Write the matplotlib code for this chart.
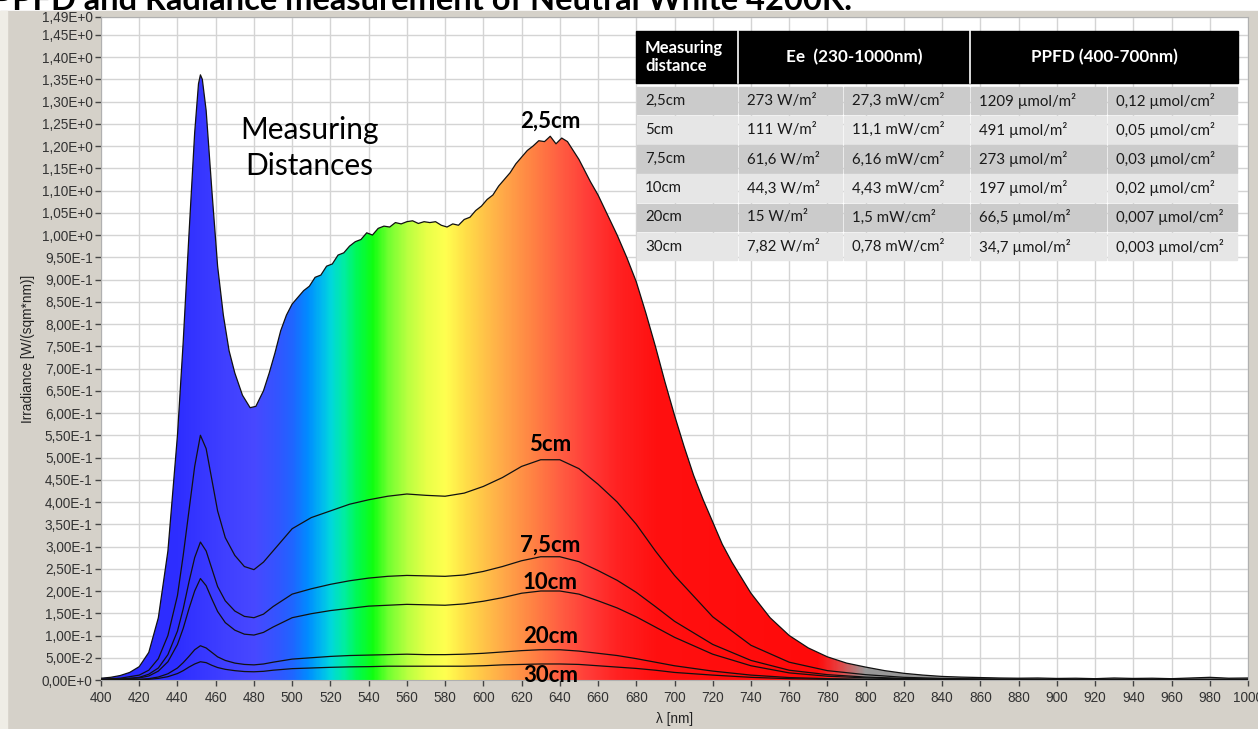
import numpy as np
import matplotlib.pyplot as plt
from matplotlib.colors import LinearSegmentedColormap
from matplotlib.patches import Rectangle

# ---- data ----
title = "PPFD and Radiance measurement of Neutral White 4200K."

# 2,5cm spectrum (densest, with the visible measurement jitter)
wl_25 = [400, 405, 410, 415, 420, 425, 430, 435, 440, 443,
         446, 449, 451, 452, 453, 455, 458, 461, 464, 467,
         470, 474, 478, 481, 485, 488, 491, 494, 497, 500,
         503, 506, 509, 512, 515, 518, 521, 524, 527, 530,
         533, 536, 539, 542, 545, 548, 551, 554, 557, 560,
         563, 566, 569, 572, 575, 578, 581, 584, 587, 590,
         593, 596, 599, 602, 605, 608, 611, 614, 617, 620,
         623, 626, 629, 632, 635, 638, 641, 644, 647, 650,
         653, 656, 660, 665, 670, 675, 680, 685, 690, 695,
         700, 705, 710, 715, 720, 725, 730, 740, 750, 760,
         770, 780, 790, 800, 810, 820, 830, 840, 850, 860,
         870, 880, 890, 900, 910, 920, 930, 940, 950, 960,
         970, 980, 990, 1000]
irr_25 = [.004, .006, .010, .017, .030, .062, .14, .29, .55, .76,
          1.00, 1.23, 1.34, 1.36, 1.35, 1.28, 1.10, .93, .82, .74,
          .69, .64, .612, .615, .65, .69, .735, .785, .82, .845,
          .86, .875, .885, .905, .91, .93, .935, .955, .96, .975,
          .985, .99, 1.005, 1.0, 1.015, 1.02, 1.018, 1.028, 1.025, 1.03,
          1.032, 1.026, 1.03, 1.028, 1.03, 1.022, 1.018, 1.025, 1.022, 1.035,
          1.04, 1.055, 1.065, 1.08, 1.09, 1.11, 1.125, 1.14, 1.16, 1.175,
          1.19, 1.20, 1.212, 1.21, 1.222, 1.205, 1.218, 1.21, 1.19, 1.17,
          1.145, 1.12, 1.09, 1.045, 1.0, .95, .895, .825, .75, .67,
          .595, .525, .46, .405, .355, .305, .265, .195, .14, .10,
          .072, .052, .038, .029, .021, .015, .011, .008, .0065, .0055,
          .0045, .004, .0045, .0035, .004, .003, .0045, .0035, .004, .003,
          .0045, .006, .004, .0045]

# the farther distances
wl_far = [400, 410, 420, 425, 430, 435, 440, 443, 446, 449,
          452, 455, 458, 461, 465, 470, 475, 480, 485, 490,
          500, 510, 520, 530, 540, 550, 560, 570, 580, 590,
          600, 610, 620, 630, 640, 650, 660, 670, 680, 690,
          700, 720, 740, 760, 780, 800, 820, 840, 870, 900,
          950, 1000]
irr_5 = [.002, .004, .011, .022, .048, .10, .19, .28, .38, .48,
         .55, .52, .45, .38, .32, .28, .255, .248, .265, .29,
         .34, .365, .38, .395, .405, .413, .418, .415, .413, .42,
         .435, .455, .48, .495, .495, .475, .44, .40, .35, .29,
         .235, .142, .078, .04, .021, .012, .006, .0035, .002, .0015,
         .0015, .0015]
irr_75 = [.001, .002, .006, .013, .027, .057, .11, .16, .22, .275,
          .31, .29, .25, .21, .178, .155, .143, .14, .148, .165,
          .193, .205, .215, .223, .229, .233, .235, .234, .233, .236,
          .244, .255, .268, .277, .277, .266, .246, .224, .197, .165,
          .132, .08, .044, .022, .012, .0066, .0035, .002, .0012, .001,
          .001, .001]
irr_10 = [.001, .0017, .0046, .009, .02, .041, .08, .116, .16, .20,
          .228, .212, .182, .154, .129, .112, .103, .101, .107, .119,
          .14, .149, .156, .161, .166, .168, .17, .169, .168, .171,
          .177, .185, .195, .20, .20, .193, .178, .162, .142, .119,
          .096, .058, .032, .016, .0085, .0048, .0025, .0014, .0009, .0008,
          .0008, .0008]
irr_20 = [.0003, .0006, .0016, .003, .0067, .014, .027, .039, .053, .068,
          .077, .072, .062, .052, .044, .038, .035, .034, .036, .040,
          .047, .05, .053, .055, .056, .057, .058, .057, .057, .058,
          .06, .063, .066, .068, .068, .065, .06, .055, .048, .04,
          .032, .02, .011, .0055, .003, .0017, .0009, .0005, .0003, .0003,
          .0003, .0003]
irr_30 = [.0002, .0003, .0008, .0016, .0036, .0075, .0145, .021, .029, .036,
          .041, .039, .033, .028, .024, .021, .019, .0185, .0195, .022,
          .0255, .027, .0285, .0295, .030, .031, .031, .031, .031, .031,
          .032, .034, .035, .036, .036, .035, .032, .029, .026, .022,
          .017, .011, .006, .003, .0016, .0009, .0005, .0003, .0002, .0002,
          .0002, .0002]

curve_labels = ["2,5cm", "5cm", "7,5cm", "10cm", "20cm", "30cm"]
label_y = [1.255, 0.53, 0.303, 0.22, 0.097, 0.009]

# table
table_header = ["Measuring\ndistance", "Ee  (230-1000nm)", "PPFD (400-700nm)"]
col_dist = ["2,5cm", "5cm", "7,5cm", "10cm", "20cm", "30cm"]
col_ee_m2 = ["273 W/m²", "111 W/m²", "61,6 W/m²", "44,3 W/m²", "15 W/m²", "7,82 W/m²"]
col_ee_cm2 = ["27,3 mW/cm²", "11,1 mW/cm²", "6,16 mW/cm²", "4,43 mW/cm²", "1,5 mW/cm²", "0,78 mW/cm²"]
col_ppfd_m2 = ["1209 µmol/m²", "491 µmol/m²", "273 µmol/m²", "197 µmol/m²", "66,5 µmol/m²", "34,7 µmol/m²"]
col_ppfd_cm2 = ["0,12 µmol/cm²", "0,05 µmol/cm²", "0,03 µmol/cm²", "0,02 µmol/cm²", "0,007 µmol/cm²", "0,003 µmol/cm²"]

# spectrum colours for the fill
spec_wl = [400, 440, 465, 480, 492, 500, 508, 515, 520, 527, 534, 542, 550, 560, 570,
           580, 590, 600, 612, 625, 640, 655, 670, 690, 775, 786, 800, 1000]
spec_col = ["#2A2AFF", "#2E2EFF", "#4040FF", "#4848FF", "#3355FF", "#1F66FF", "#008CFF",
            "#00B8F0", "#00D8DC", "#00EEA0", "#00FA50", "#10FF10", "#70FF30", "#B8FF40",
            "#E8FF48", "#FFFF50", "#FFE048", "#FFC448", "#FFA448", "#FF8444", "#FF5E42",
            "#FF3C38", "#FF2222", "#FF1010", "#FF0A0A", "#E84040", "#999999", "#8C8C8C"]

# ---- figure ----
W, H = 1258, 729
fig = plt.figure(figsize=(W / 100, H / 100), dpi=100, facecolor="white")

bg = fig.add_axes([0, 0, 1, 1], zorder=0)
bg.set_xlim(0, W)
bg.set_ylim(H, 0)
bg.axis("off")
bg.text(-8, 10, title, fontsize=23.5, fontweight="bold", family="Lato",
        va="baseline", ha="left", color="black", zorder=1)
bg.add_patch(Rectangle((0, 11), W, H, color="#D5D1C9", zorder=2))
bg.add_patch(Rectangle((0, 11), 7, H, color="#EFEDE6", zorder=3))

ax = fig.add_axes([101 / W, 49 / H, 1147 / W, 663 / H], zorder=1)
ax.set_facecolor("white")

# gradient fill under the 2,5cm curve
cmap = LinearSegmentedColormap.from_list(
    "spec", [((w - 400) / 600, c) for w, c in zip(spec_wl, spec_col)], N=1024)
grad = np.linspace(400, 1000, 1200)[None, :]
img = ax.imshow(grad, extent=[400, 1000, 0, 1.49], aspect="auto", cmap=cmap,
                vmin=400, vmax=1000, origin="lower", zorder=2, interpolation="bilinear")
poly = ax.fill_between(wl_25, 0, irr_25, facecolor="none", edgecolor="none")
img.set_clip_path(poly.get_paths()[0], transform=ax.transData)

ax.plot(wl_25, irr_25, color="#111111", lw=0.9, zorder=3)
for irr in [irr_5, irr_75, irr_10, irr_20, irr_30]:
    ax.plot(wl_far, irr, color="#111111", lw=0.9, zorder=3)

for lab, y in zip(curve_labels, label_y):
    ax.text(635, y, lab, fontsize=16, fontweight="bold", family="Lato",
            ha="center", va="center", zorder=5)

ax.text(509, 1.195, "Measuring\nDistances", fontsize=21.5, family="Lato",
        ha="center", va="center", linespacing=1.35, zorder=5)

ax.set_xlim(400, 1000)
ax.set_ylim(0, 1.49)
ax.set_xticks(np.arange(400, 1001, 20))
yt = list(np.round(np.arange(0, 1.451, 0.05), 2)) + [1.49]
ax.set_yticks(yt)


def sci_label(v):
    if v == 0:
        return "0,00E+0"
    e = int(np.floor(np.log10(v) + 1e-9))
    m = v / 10 ** e
    return f"{m:.2f}E{e:+d}".replace(".", ",")


ax.set_yticklabels([sci_label(v) for v in yt])
ax.grid(True, color="#D4D4D4", lw=1.0, zorder=0)
ax.set_axisbelow(True)
ax.tick_params(direction="out", length=4, width=1, color="#444444",
               labelsize=9.8, labelcolor="#333333", pad=2)
ax.tick_params(axis="x", pad=4)
for lbl in ax.get_xticklabels() + ax.get_yticklabels():
    lbl.set_family("Liberation Sans")
for s in ax.spines.values():
    s.set_color("#B0B0B0")
    s.set_linewidth(0.8)
ax.set_xlabel("λ [nm]", fontsize=9.8, family="Liberation Sans", color="#222222", labelpad=5)
ax.set_ylabel("Irradiance [W/(sqm*nm)]", fontsize=9.8, family="Liberation Sans",
              color="#222222", labelpad=5)

# ---- table overlay ----
tb = fig.add_axes([0, 0, 1, 1], zorder=2)
tb.set_xlim(0, W)
tb.set_ylim(H, 0)
tb.axis("off")

cx = [636, 738, 843, 970, 1107, 1238]
head_top, head_bot = 31, 83
tb.add_patch(Rectangle((cx[0], head_top), cx[-1] - cx[0], head_bot - head_top, color="black"))
for x in [cx[1], cx[3]]:
    tb.plot([x, x], [head_top, head_bot], color="white", lw=1.2)
hy = (head_top + head_bot) / 2
tb.text(cx[0] + 9, hy, table_header[0], color="white", fontsize=12, fontweight="bold",
        family="Lato", ha="left", va="center", linespacing=1.15)
tb.text((cx[1] + cx[3]) / 2, hy, table_header[1], color="white", fontsize=12.3,
        fontweight="bold", family="Lato", ha="center", va="center")
tb.text((cx[3] + cx[5]) / 2, hy, table_header[2], color="white", fontsize=12.3,
        fontweight="bold", family="Lato", ha="center", va="center")

row_top, row_h = 86, 29.2
cols = [col_dist, col_ee_m2, col_ee_cm2, col_ppfd_m2, col_ppfd_cm2]
for r in range(len(col_dist)):
    y0 = row_top + r * row_h
    fc = "#CBCBCB" if r % 2 == 0 else "#E6E6E6"
    for c in range(5):
        tb.add_patch(Rectangle((cx[c] + 0.8, y0 + 0.8), cx[c + 1] - cx[c] - 1.6, row_h - 1.6,
                               color=fc))
        tb.text(cx[c] + 9, y0 + row_h / 2, cols[c][r], fontsize=10.8, family="Lato",
                color="#1A1A1A", ha="left", va="center")

fig.savefig("out.png", dpi=100, facecolor=fig.get_facecolor())
